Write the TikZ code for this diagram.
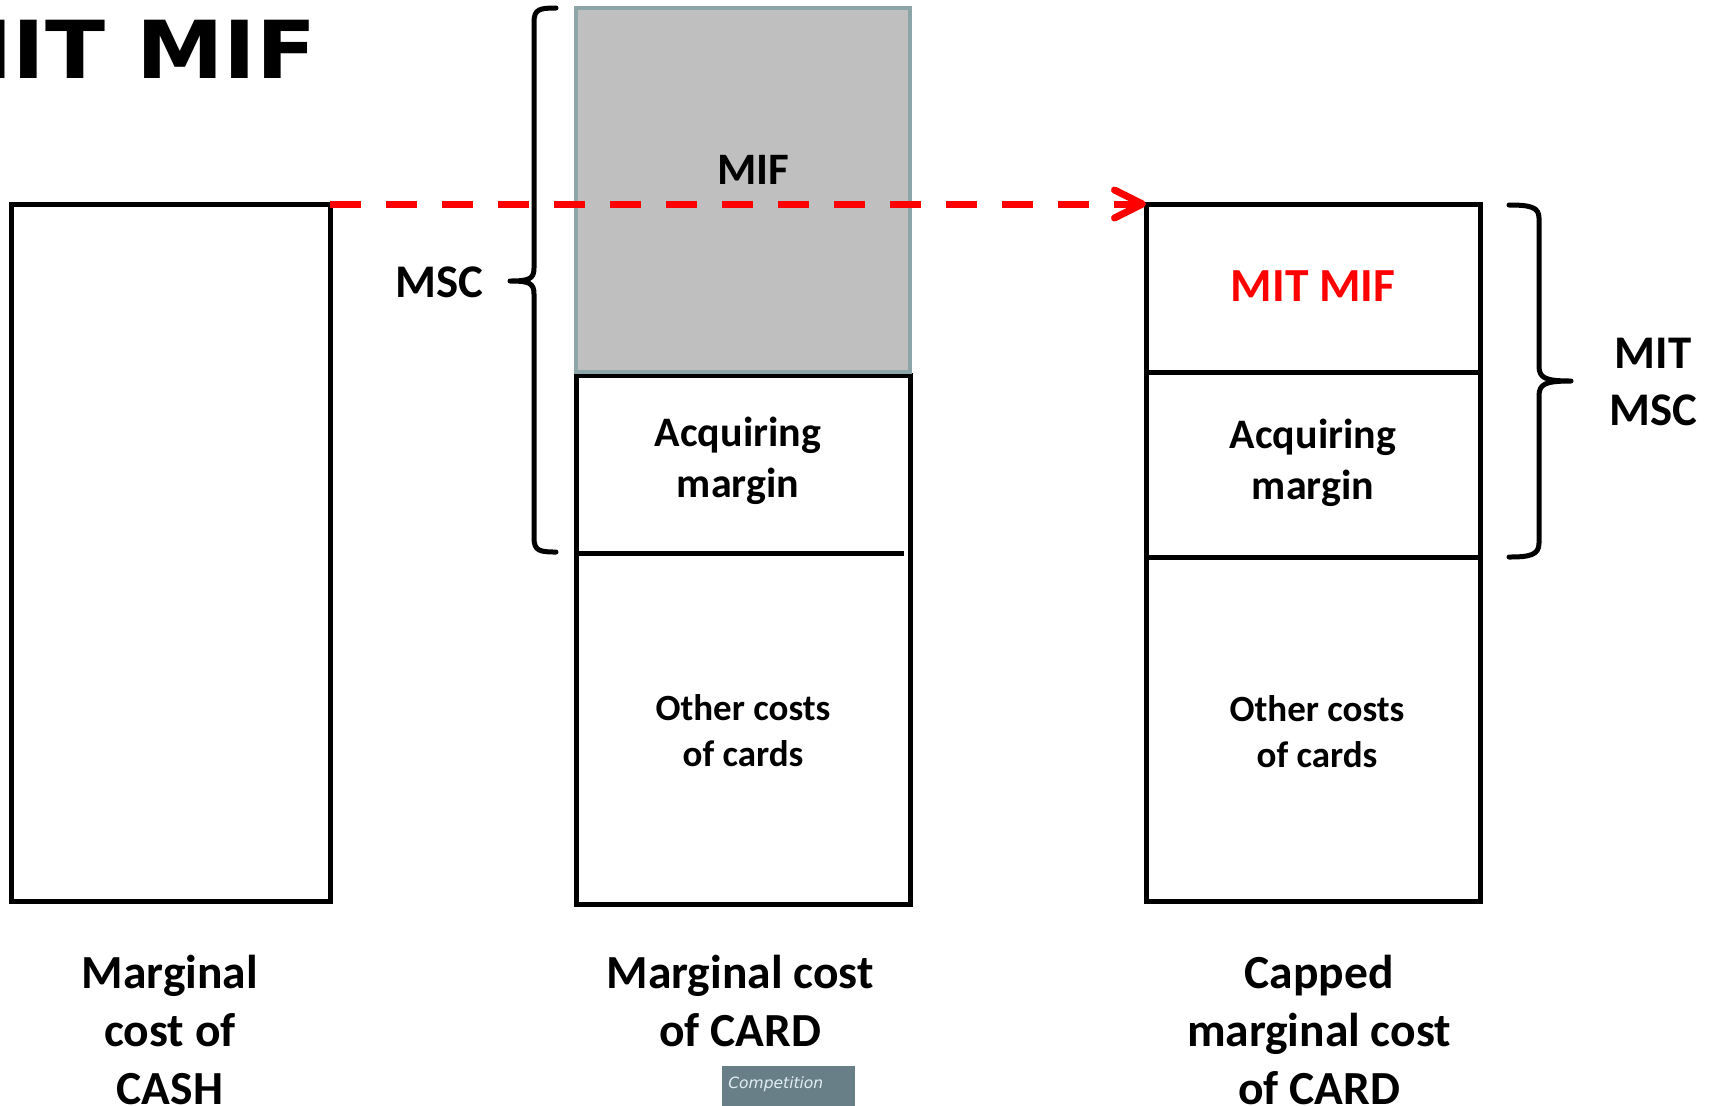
\documentclass[tikz,border=0pt]{standalone}
\usepackage{fontspec}
\setmainfont{Carlito}
\newfontfamily\titlefont[FakeStretch=1.1]{DejaVu Sans}
\newfontfamily\tagfont{DejaVu Sans}
\usetikzlibrary{arrows.meta,fit}
\definecolor{mifgray}{HTML}{BFBFBF}
\definecolor{mifedge}{HTML}{8BA5A8}
\definecolor{tagbg}{HTML}{687F88}
\definecolor{tagtext}{HTML}{E2EEF4}
\definecolor{capred}{HTML}{FF0000}

\begin{document}
\begin{tikzpicture}[x=0.5pt,y=-0.5pt,
  costbox/.style={draw=black, line width=2.5pt, inner sep=0pt, outer sep=0pt},
  mifbox/.style={draw=mifedge, fill=mifgray, line width=2pt, inner sep=0pt, outer sep=0pt},
  brace/.style={line width=2.5pt, line cap=round, line join=round},
  rule/.style={line width=2.5pt},
  bottomlabel/.style={font=\bfseries\fontsize{23.75}{29.2}\selectfont, align=center, inner sep=0pt},
  sidelabel/.style={font=\bfseries\fontsize{23.4}{28.5}\selectfont, align=center, inner sep=0pt},
  parttext/.style={font=\bfseries\fontsize{21}{25.5}\selectfont, align=center, inner sep=0pt},
  costtext/.style={font=\bfseries\fontsize{18.5}{23}\selectfont, align=center, inner sep=0pt},
  feetext/.style={font=\bfseries\fontsize{23.75}{28.5}\selectfont, inner sep=0pt},
  capline/.style={capred, line width=3.5pt, dash pattern=on 15.5pt off 12.5pt,
    -{Straight Barb[length=14pt,width=14pt,round]}},
]
\useasboundingbox (0,0) rectangle (1711,1105);
\clip (0,0) rectangle (1711,1105);

% title, partly cut off at the left edge
\node[font=\titlefont\bfseries\fontsize{40}{48}\selectfont, anchor=base east, inner sep=0pt]
  (title) at (317,78) {MIT MIF};

% marginal cost of cash
\node[costbox, fit={(11,204) (330,901)}] (cash) {};

% marginal cost of card
\node[costbox, fit={(576,375) (910,904)}] (card) {};
\draw[rule] (576,553) -- (904,553);
\node[mifbox, fit={(576,8) (910,372)}] (mif) {};

% capped marginal cost of card
\node[costbox, fit={(1146,204) (1480,372)}] (mitmif) {};
\node[costbox, fit={(1146,372) (1480,557)}] (acqcap) {};
\node[costbox, fit={(1146,557) (1480,901)}] (othercap) {};

% box texts
\node[feetext] (miftext) at (753,170) {\fontsize{22.5}{27}\selectfont MIF};
\node[parttext] (acqtext) at (738,461) {Acquiring\\margin};
\node[costtext] (othertext) at (743,731) {Other costs\\of cards};
\node[feetext, text=capred] (mitmiftext) at (1313,286) {MIT MIF};
\node[parttext] (acqcaptext) at (1313,463) {Acquiring\\margin};
\node[costtext] (othercaptext) at (1317,732) {Other costs\\of cards};

% braces
\draw[brace] (556,8) .. controls (540,8) and (534,9) .. (534,22) -- (534,268)
  .. controls (534,279) and (529,281) .. (510,281)
  .. controls (529,281) and (534,283) .. (534,294) -- (534,538)
  .. controls (534,551) and (540,552) .. (556,552);
\node[sidelabel] (msc) at (439,282) {MSC};

\draw[brace] (1509,205) .. controls (1530,205) and (1539,207) .. (1539,218) -- (1539,366)
  .. controls (1539,378) and (1545,381) .. (1571,381)
  .. controls (1545,381) and (1539,384) .. (1539,396) -- (1539,543)
  .. controls (1539,555) and (1530,557) .. (1509,557);
\node[sidelabel] (mitmsc) at (1653,382) {MIT\\MSC};

% bottom captions
\node[bottomlabel] (cashlabel) at (170,1030) {Marginal\\cost of\\CASH};
\node[bottomlabel] (cardlabel) at (740,1001) {Marginal cost\\of CARD};
\node[bottomlabel] (caplabel) at (1319,1030) {Capped\\marginal cost\\of CARD};

% footer tag
\node[fill=tagbg, inner sep=0pt, outer sep=0pt, fit={(722,1066) (855,1106)}] (tag) {};
\node[font=\tagfont\itshape\fontsize{7.75}{9}\selectfont, text=tagtext, anchor=base west, inner sep=0pt]
  (tagtext) at (728,1088) {Competition};

% the cap: cash cost carried over to the card
\draw[capline] (cash.north east) -- (mitmif.north west);
\end{tikzpicture}
\end{document}
